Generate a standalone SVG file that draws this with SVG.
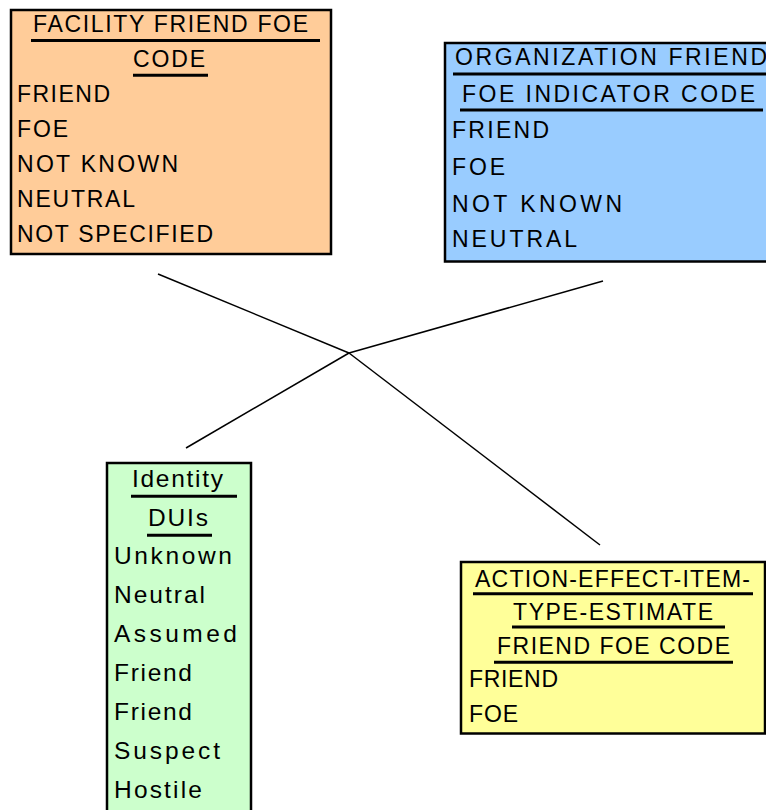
<svg xmlns="http://www.w3.org/2000/svg" width="766" height="810" viewBox="0 0 766 810">
  <style>
    .box { stroke: #000; stroke-width: 2.5; }
    .t { font-family: "Liberation Sans", Arial, sans-serif; font-size: 23px; fill: #000; }
    .lg { font-size: 24.5px; }
    .ul { stroke: #000; stroke-width: 3; }
    .conn { stroke: #000; stroke-width: 1.5; fill: none; }
  </style>
  <rect width="766" height="810" fill="#fff"/>

  <!-- connectors meeting at a common junction -->
  <g id="connectors">
    <line class="conn" x1="158" y1="274" x2="349" y2="353"/>
    <line class="conn" x1="603" y1="281" x2="349" y2="353"/>
    <line class="conn" x1="349" y1="353" x2="186" y2="448"/>
    <line class="conn" x1="349" y1="353" x2="600" y2="545"/>
  </g>

  <g id="facility-friend-foe-code">
    <rect class="box" x="11" y="10" width="320" height="244" fill="#FFCC99"/>
    <text class="t" x="33" y="32" textLength="275" lengthAdjust="spacing">FACILITY FRIEND FOE</text>
    <line class="ul" x1="31" y1="40.5" x2="320" y2="40.5"/>
    <text class="t" x="133" y="67" textLength="72" lengthAdjust="spacing">CODE</text>
    <line class="ul" x1="133" y1="75.3" x2="208" y2="75.3"/>
    <text class="t" x="17" y="102" textLength="93" lengthAdjust="spacing">FRIEND</text>
    <text class="t" x="17" y="137" textLength="51" lengthAdjust="spacing">FOE</text>
    <text class="t" x="17" y="172" textLength="161" lengthAdjust="spacing">NOT KNOWN</text>
    <text class="t" x="17" y="207" textLength="118" lengthAdjust="spacing">NEUTRAL</text>
    <text class="t" x="17" y="242" textLength="196" lengthAdjust="spacing">NOT SPECIFIED</text>
  </g>

  <g id="organization-friend-foe-indicator-code">
    <rect class="box" x="445" y="43" width="330" height="218.5" fill="#99CCFF"/>
    <text class="t" x="455" y="65" textLength="312" lengthAdjust="spacing">ORGANIZATION FRIEND</text>
    <line class="ul" x1="453" y1="74" x2="770" y2="74"/>
    <text class="t" x="462" y="102" textLength="293" lengthAdjust="spacing">FOE INDICATOR CODE</text>
    <line class="ul" x1="460" y1="110" x2="763" y2="110"/>
    <text class="t" x="452" y="138" textLength="97" lengthAdjust="spacing">FRIEND</text>
    <text class="t" x="452" y="175" textLength="53" lengthAdjust="spacing">FOE</text>
    <text class="t" x="452" y="212" textLength="170" lengthAdjust="spacing">NOT KNOWN</text>
    <text class="t" x="452" y="247" textLength="125" lengthAdjust="spacing">NEUTRAL</text>
  </g>

  <g id="identity-duis">
    <rect class="box" x="107" y="463" width="144" height="400" fill="#CCFFCC"/>
    <text class="t lg" x="132" y="487" textLength="91" lengthAdjust="spacing">Identity</text>
    <line class="ul" x1="131" y1="496.3" x2="237" y2="496.3"/>
    <text class="t lg" x="148" y="526" textLength="60" lengthAdjust="spacing">DUIs</text>
    <line class="ul" x1="147" y1="535.3" x2="212" y2="535.3"/>
    <text class="t lg" x="114" y="564" textLength="118" lengthAdjust="spacing">Unknown</text>
    <text class="t lg" x="114" y="603" textLength="91" lengthAdjust="spacing">Neutral</text>
    <text class="t lg" x="114" y="642" textLength="123" lengthAdjust="spacing">Assumed</text>
    <text class="t lg" x="114" y="681" textLength="78" lengthAdjust="spacing">Friend</text>
    <text class="t lg" x="114" y="720" textLength="78" lengthAdjust="spacing">Friend</text>
    <text class="t lg" x="114" y="759" textLength="106" lengthAdjust="spacing">Suspect</text>
    <text class="t lg" x="114" y="798" textLength="88" lengthAdjust="spacing">Hostile</text>
  </g>

  <g id="action-effect-item-type-estimate-friend-foe-code">
    <rect class="box" x="461" y="562" width="304" height="171.5" fill="#FFFF99"/>
    <text class="t" x="475" y="587" textLength="275" lengthAdjust="spacing">ACTION-EFFECT-ITEM-</text>
    <line class="ul" x1="473" y1="593.7" x2="753" y2="593.7"/>
    <text class="t" x="513" y="620" textLength="200" lengthAdjust="spacing">TYPE-ESTIMATE</text>
    <line class="ul" x1="512" y1="627" x2="725" y2="627"/>
    <text class="t" x="497" y="654" textLength="233" lengthAdjust="spacing">FRIEND FOE CODE</text>
    <line class="ul" x1="494" y1="662.3" x2="733" y2="662.3"/>
    <text class="t" x="469" y="687" textLength="89" lengthAdjust="spacing">FRIEND</text>
    <text class="t" x="469" y="722" textLength="49" lengthAdjust="spacing">FOE</text>
  </g>
</svg>
